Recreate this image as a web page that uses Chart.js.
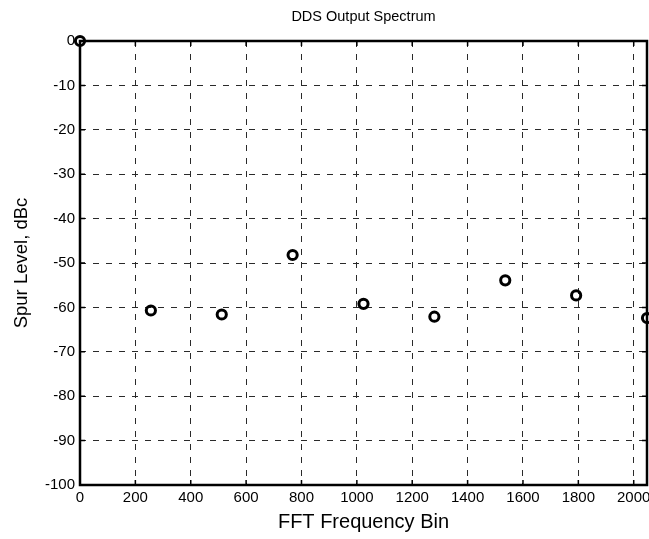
<!DOCTYPE html>
<html>
<head>
<meta charset="utf-8">
<script src="https://cdn.jsdelivr.net/npm/chart.js@4/dist/chart.umd.min.js"></script>
<style>
  html, body { margin: 0; padding: 0; background: #fff; }
  #wrap { width: 649px; height: 539px; position: relative; }
</style>
</head>
<body>
<div id="wrap"><canvas id="c" width="649" height="539"></canvas></div>
<script>
// FFT bins of the DDS output spectrum and their spur levels (dBc)
const bins = [0, 256, 512, 768, 1024, 1280, 1536, 1792, 2048];
const spurLevels = [0, -60.7, -61.6, -48.2, -59.2, -62.1, -53.9, -57.3, -62.4];

// axis ranges and tick spacing
const xRange = [0, 2048];
const xStep = 200;
const yRange = [-100, 0];
const yStep = 10;

const FONT = 'Arial, "Liberation Sans", sans-serif';

// box frame with short inward tick marks on all four sides
const framePlugin = {
  id: 'frame',
  beforeDatasetsDraw(chart) {
    const { ctx, chartArea: a, scales: { x, y } } = chart;
    const len = 5;
    ctx.save();
    ctx.strokeStyle = '#000';
    ctx.lineWidth = 1.5;
    ctx.beginPath();
    x.ticks.forEach(t => {
      const px = x.getPixelForValue(t.value);
      ctx.moveTo(px, a.bottom); ctx.lineTo(px, a.bottom - len);
      ctx.moveTo(px, a.top); ctx.lineTo(px, a.top + len);
    });
    y.ticks.forEach(t => {
      const py = y.getPixelForValue(t.value);
      ctx.moveTo(a.left, py); ctx.lineTo(a.left + len, py);
      ctx.moveTo(a.right, py); ctx.lineTo(a.right - len, py);
    });
    ctx.stroke();
    ctx.lineWidth = 2.5;
    ctx.strokeRect(a.left, a.top, a.right - a.left, a.bottom - a.top);
    ctx.restore();
  }
};

new Chart(document.getElementById('c'), {
  type: 'scatter',
  data: {
    datasets: [{
      data: bins.map((b, i) => ({ x: b, y: spurLevels[i] })),
      pointStyle: 'circle',
      pointRadius: 4.6,
      pointHoverRadius: 4.6,
      pointBorderWidth: 3,
      pointBorderColor: '#000',
      pointBackgroundColor: 'rgba(0,0,0,0)',
      showLine: false,
      clip: false
    }]
  },
  options: {
    responsive: false,
    animation: false,
    events: [],
    layout: { autoPadding: false, padding: { left: 0, right: 2, top: 0, bottom: 0 } },
    plugins: {
      legend: { display: false },
      tooltip: { enabled: false },
      title: { display: false }
    },
    scales: {
      // top axis carries only the chart title, centred over the plot
      top: {
        type: 'linear',
        position: 'top',
        min: xRange[0],
        max: xRange[1],
        afterFit(scale) { scale.height = 41; scale.paddingLeft = 0; scale.paddingRight = 0; },
        ticks: { display: false },
        grid: { display: false, drawTicks: false },
        border: { display: false },
        title: {
          display: true,
          text: 'DDS Output Spectrum',
          color: '#000',
          font: { family: FONT, size: 14.5 },
          padding: { top: 8, bottom: 0 }
        }
      },
      x: {
        type: 'linear',
        position: 'bottom',
        min: xRange[0],
        max: xRange[1],
        afterFit(scale) { scale.height = 54; scale.paddingLeft = 0; scale.paddingRight = 0; },
        ticks: {
          stepSize: xStep,
          includeBounds: false,
          autoSkip: false,
          maxRotation: 0,
          color: '#000',
          padding: 4,
          font: { family: FONT, size: 15 },
          callback: v => String(v)
        },
        grid: { color: '#2a2a2a', lineWidth: 1, drawTicks: false },
        border: { display: false, dash: [6, 7] },
        title: {
          display: true,
          text: 'FFT Frequency Bin',
          color: '#000',
          font: { family: FONT, size: 20 },
          padding: { top: 0, bottom: 5 }
        }
      },
      y: {
        type: 'linear',
        min: yRange[0],
        max: yRange[1],
        afterFit(scale) { scale.width = 80; scale.paddingTop = 0; scale.paddingBottom = 0; },
        ticks: {
          stepSize: yStep,
          color: '#000',
          padding: 5,
          font: { family: FONT, size: 15 },
          callback: v => String(v)
        },
        grid: { color: '#2a2a2a', lineWidth: 1, drawTicks: false },
        border: { display: false, dash: [6, 7] },
        title: {
          display: true,
          text: 'Spur Level, dBc',
          color: '#000',
          font: { family: FONT, size: 18.5 },
          padding: { top: 11, bottom: 0 }
        }
      }
    }
  },
  plugins: [framePlugin]
});
</script>
</body>
</html>
